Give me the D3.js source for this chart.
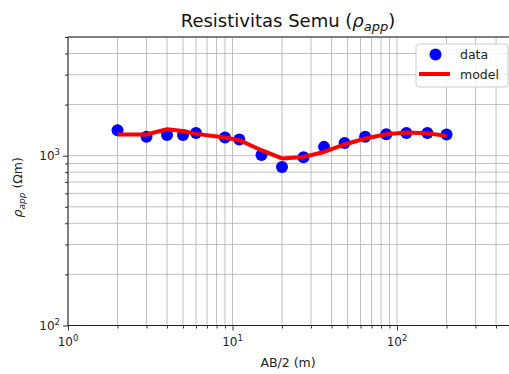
<!DOCTYPE html>
<html>
<head>
<meta charset="utf-8">
<script src="https://cdn.jsdelivr.net/npm/d3@7"></script>
<style>
  body { margin: 0; background: #fff; }
  svg { display: block; font-family: "DejaVu Sans", sans-serif; }
</style>
</head>
<body>
<div id="chart"></div>
<script>
// AB/2 spacings (m)
const abHalf = [2, 3, 4, 5, 6, 9, 11, 15, 20, 27, 36, 48, 64, 86, 114, 153, 200];
// measured apparent resistivity (ohm m)
const rhoData = [1413, 1291, 1325, 1325, 1362, 1280, 1245, 1011, 859, 980, 1127, 1189, 1291, 1337, 1362, 1362, 1335];
// model response
const rhoModel = [1333, 1333, 1432, 1399, 1344, 1280, 1234, 1077, 963, 984, 1052, 1164, 1262, 1338, 1369, 1357, 1308];

const xDomain = [1, 500];
const yDomain = [100, 5000];
const xMajor = [1, 10, 100];
const yMajor = [100, 1000];
const legendItems = ["data", "model"];

const width = 509, height = 374;
const plotLeft = 68, plotTop = 37, plotRight = 512, plotBottom = 325.5;

const svg = d3.select("#chart").append("svg")
  .attr("width", width)
  .attr("height", height);

const x = d3.scaleLog().domain(xDomain).range([plotLeft, plotRight]);
const y = d3.scaleLog().domain(yDomain).range([plotBottom, plotTop]);

// all ticks (major + minor) for a log domain
function logTicks(domain) {
  const out = [];
  for (let p = Math.floor(Math.log10(domain[0])); p <= Math.ceil(Math.log10(domain[1])); p++) {
    for (let m = 1; m < 10; m++) {
      const v = m * Math.pow(10, p);
      if (v >= domain[0] && v <= domain[1]) out.push(v);
    }
  }
  return out;
}
const xAll = logTicks(xDomain);
const yAll = logTicks(yDomain);

// grid
const grid = svg.append("g").attr("stroke", "#b0b0b0").attr("stroke-width", 0.8);
grid.selectAll(".gx").data(xAll).enter().append("line")
  .attr("x1", d => x(d)).attr("x2", d => x(d))
  .attr("y1", plotTop).attr("y2", plotBottom);
grid.selectAll(".gy").data(yAll).enter().append("line")
  .attr("x1", plotLeft).attr("x2", plotRight)
  .attr("y1", d => y(d)).attr("y2", d => y(d));

// axes
const xAxis = d3.axisBottom(x).tickValues(xAll).tickFormat("").tickSize(0);
const gx = svg.append("g").attr("transform", `translate(0,${plotBottom})`).call(xAxis);
gx.select(".domain").remove();
gx.selectAll(".tick line")
  .attr("y2", d => xMajor.includes(d) ? 5 : 3)
  .attr("stroke", "#333");

const yAxis = d3.axisLeft(y).tickValues(yAll).tickFormat("").tickSize(0);
const gy = svg.append("g").attr("transform", `translate(${plotLeft},0)`).call(yAxis);
gy.select(".domain").remove();
gy.selectAll(".tick line")
  .attr("x2", d => yMajor.includes(d) ? -5 : -3)
  .attr("stroke", "#333");

// tick labels like 10^n
function powLabel(g, v) {
  const t = g.append("text").attr("font-size", 12).attr("fill", "#222");
  t.append("tspan").text("10");
  t.append("tspan").attr("font-size", 8.5).attr("dy", -5).text(Math.round(Math.log10(v)));
  return t;
}
xMajor.forEach(v => {
  powLabel(svg, v).attr("x", x(v)).attr("y", plotBottom + 20).attr("text-anchor", "middle");
});
yMajor.forEach(v => {
  powLabel(svg, v).attr("x", plotLeft - 8).attr("y", y(v) + 4).attr("text-anchor", "end");
});

// frame
svg.append("rect")
  .attr("x", plotLeft).attr("y", plotTop)
  .attr("width", plotRight - plotLeft).attr("height", plotBottom - plotTop)
  .attr("fill", "none").attr("stroke", "#222").attr("stroke-width", 1);

// data points
svg.append("g").selectAll("circle")
  .data(abHalf)
  .enter().append("circle")
  .attr("cx", d => x(d))
  .attr("cy", (d, i) => y(rhoData[i]))
  .attr("r", 6)
  .attr("fill", "#0000ff");

// model line
const line = d3.line()
  .x(d => x(d[0]))
  .y(d => y(d[1]));
svg.append("path")
  .datum(abHalf.map((d, i) => [d, rhoModel[i]]))
  .attr("d", line)
  .attr("fill", "none")
  .attr("stroke", "#ff0000")
  .attr("stroke-width", 4)
  .attr("stroke-linejoin", "round");

// title
const title = svg.append("text")
  .attr("x", 288).attr("y", 27)
  .attr("text-anchor", "middle")
  .attr("font-size", 18)
  .attr("fill", "#111");
title.append("tspan").text("Resistivitas Semu (");
title.append("tspan").attr("font-style", "italic").text("ρ");
title.append("tspan").attr("font-style", "italic").attr("font-size", 13).attr("dy", 4).text("app");
title.append("tspan").attr("dy", -4).text(")");

// axis labels
svg.append("text")
  .attr("x", 288).attr("y", 367)
  .attr("text-anchor", "middle")
  .attr("font-size", 12.5)
  .attr("fill", "#222")
  .text("AB/2 (m)");

const yl = svg.append("text")
  .attr("transform", `translate(22,${(plotTop + plotBottom) / 2 + 6}) rotate(-90)`)
  .attr("text-anchor", "middle")
  .attr("font-size", 12.5)
  .attr("fill", "#222");
yl.append("tspan").attr("font-style", "italic").text("ρ");
yl.append("tspan").attr("font-style", "italic").attr("font-size", 9).attr("dy", 3).text("app");
yl.append("tspan").attr("dy", -3).text(" (Ωm)");

// legend
const lg = svg.append("g").attr("transform", "translate(416,44)");
lg.append("rect")
  .attr("width", 92).attr("height", 43).attr("rx", 3)
  .attr("fill", "#fff").attr("fill-opacity", 0.85)
  .attr("stroke", "#ccc");
lg.append("circle").attr("cx", 19.5).attr("cy", 10.5).attr("r", 6).attr("fill", "#0000ff");
lg.append("line").attr("x1", 3).attr("x2", 34).attr("y1", 30).attr("y2", 30)
  .attr("stroke", "#ff0000").attr("stroke-width", 4);
lg.selectAll(".lt").data(legendItems).enter().append("text")
  .attr("x", 44).attr("y", (d, i) => 15 + i * 19.5)
  .attr("font-size", 12.5)
  .attr("fill", "#222")
  .text(d => d);
</script>
</body>
</html>
